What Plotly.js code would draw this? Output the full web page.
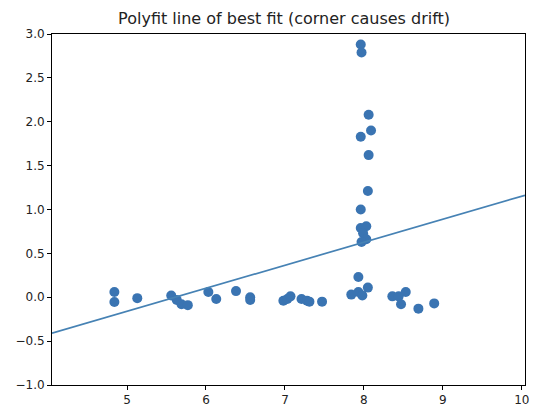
<!DOCTYPE html>
<html>
<head>
<meta charset="utf-8">
<script src="https://cdn.plot.ly/plotly-3.0.1.min.js"></script>
<style>html,body{margin:0;padding:0;background:#fff;}#chart{width:534px;height:407px;}</style>
</head>
<body>
<div id="chart"></div>
<script>
const xs = [4.84, 4.84, 5.13, 5.56, 5.63, 5.69, 5.77, 6.03, 6.13, 6.38, 6.56, 6.56,
  6.98, 7.03, 7.07, 7.21, 7.28, 7.31, 7.47, 7.84, 7.93, 7.93, 7.98, 8.05,
  8.36, 8.44, 8.53, 8.47, 8.69, 8.89,
  7.96, 7.97, 8.06, 8.09, 7.96, 8.06, 8.05, 7.96, 7.96, 8.03, 7.99, 8.03, 7.97];
const ys = [0.06, -0.055, -0.01, 0.02, -0.03, -0.08, -0.09, 0.06, -0.02, 0.07, 0.0, -0.03,
  -0.04, -0.02, 0.01, -0.02, -0.04, -0.05, -0.05, 0.03, 0.23, 0.06, 0.02, 0.11,
  0.01, 0.01, 0.06, -0.08, -0.13, -0.07,
  2.88, 2.79, 2.08, 1.90, 1.83, 1.62, 1.21, 1.00, 0.79, 0.81, 0.73, 0.66, 0.63];
const fitSlope = 0.2625;
const fitIntercept = -1.473;
const xRange = [4.05, 10.04];
const yRange = [-1.0, 3.0];

const lineX = xRange.slice();
const lineY = lineX.map(x => fitSlope * x + fitIntercept);

const axisCommon = {
  showgrid: false, zeroline: false, showline: true, mirror: true,
  linecolor: '#000', linewidth: 1, ticks: 'outside', ticklen: 4, tickwidth: 1,
  tickcolor: '#000', tickfont: {family: 'DejaVu Sans', size: 12, color: '#222'}
};

Plotly.newPlot('chart', [
  {x: xs, y: ys, mode: 'markers', type: 'scatter',
   marker: {color: '#3a74b2', size: 10, line: {width: 0}}, hoverinfo: 'none'},
  {x: lineX, y: lineY, mode: 'lines', type: 'scatter',
   line: {color: '#4682b4', width: 1.7}, hoverinfo: 'none'}
], {
  width: 534, height: 407,
  margin: {l: 52, r: 9, t: 34, b: 22, pad: 0},
  paper_bgcolor: '#fff', plot_bgcolor: '#fff',
  showlegend: false,
  title: {text: 'Polyfit line of best fit (corner causes drift)',
          font: {family: 'DejaVu Sans', size: 16, color: '#222'},
          x: 0.532, xanchor: 'center', y: 0.955, yanchor: 'middle'},
  xaxis: Object.assign({range: xRange, tickvals: [5, 6, 7, 8, 9, 10]}, axisCommon),
  yaxis: Object.assign({range: yRange, tickvals: [-1, -0.5, 0, 0.5, 1, 1.5, 2, 2.5, 3], tickformat: '.1f'}, axisCommon)
}, {staticPlot: true});
</script>
</body>
</html>
